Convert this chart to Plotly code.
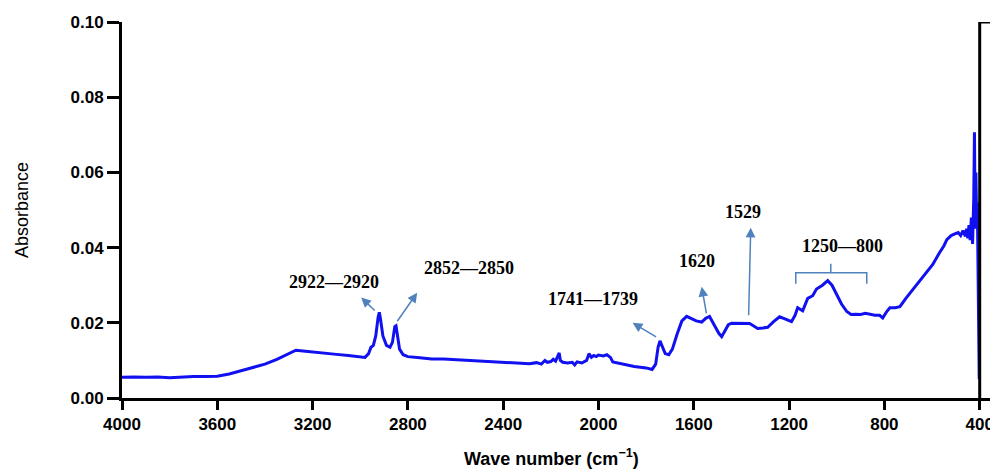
import plotly.graph_objects as go

# FTIR spectrum (wavenumber cm-1, absorbance)
wavenumber = [4000, 3950, 3900, 3850, 3800, 3750, 3700, 3650, 3600, 3550, 3500, 3450, 3400, 3350,
              3300, 3270, 3240, 3200, 3150, 3100, 3050, 3000, 2980, 2965, 2955, 2945, 2935, 2925,
              2920, 2915, 2905, 2890, 2875, 2865, 2855, 2850, 2845, 2835, 2820, 2800, 2750, 2700,
              2650, 2600, 2550, 2500, 2450, 2400, 2350, 2320, 2290, 2260, 2240, 2225, 2215, 2200,
              2190, 2180, 2170, 2165, 2160, 2150, 2130, 2110, 2100, 2090, 2070, 2050, 2040, 2030,
              2020, 2010, 2000, 1980, 1965, 1950, 1940, 1900, 1850, 1800, 1775, 1760, 1750, 1742,
              1735, 1720, 1705, 1690, 1670, 1650, 1630, 1610, 1590, 1567, 1550, 1534, 1515, 1495,
              1483, 1470, 1455, 1441, 1400, 1366, 1350, 1332, 1310, 1290, 1265, 1240, 1215, 1190,
              1175, 1164, 1143, 1122, 1101, 1085, 1060, 1038, 1020, 1000, 980, 958, 940, 920, 900,
              880, 861, 840, 820, 807, 790, 777, 755, 735, 710, 681, 650, 620, 597, 570, 550, 538,
              520, 500, 490, 480, 470, 460, 455, 450, 445, 440, 435, 430, 425, 422, 419, 416, 413,
              410, 408, 406, 404, 402]
absorbance = [0.0055, 0.0056, 0.0055, 0.0056, 0.0054, 0.0056, 0.0057, 0.0057, 0.0058, 0.0064, 0.0072,
              0.0081, 0.0090, 0.0103, 0.0118, 0.0127, 0.0125, 0.0122, 0.0119, 0.0116, 0.0113, 0.0110,
              0.0108, 0.0118, 0.0135, 0.0140, 0.0165, 0.0215, 0.0228, 0.0210, 0.0165, 0.0140, 0.0135,
              0.0148, 0.0190, 0.0192, 0.0170, 0.0130, 0.0115, 0.0110, 0.0107, 0.0104, 0.0104, 0.0102,
              0.0101, 0.0100, 0.0098, 0.0096, 0.0093, 0.0092, 0.0091, 0.0094, 0.0090, 0.0100, 0.0095,
              0.0097, 0.0103, 0.0098, 0.0110, 0.0120, 0.0100, 0.0095, 0.0093, 0.0095, 0.0088, 0.0096,
              0.0093, 0.0100, 0.0118, 0.0108, 0.0113, 0.0110, 0.0114, 0.0112, 0.0115, 0.0108, 0.0096,
              0.0090, 0.0084, 0.0080, 0.0076, 0.0090, 0.0135, 0.0152, 0.0140, 0.0118, 0.0115, 0.0130,
              0.0170, 0.0205, 0.0217, 0.0212, 0.0205, 0.0202, 0.0212, 0.0217, 0.0195, 0.0172, 0.0163,
              0.0178, 0.0195, 0.0199, 0.0199, 0.0198, 0.0192, 0.0185, 0.0186, 0.0188, 0.0203, 0.0216,
              0.0210, 0.0203, 0.0220, 0.0240, 0.0232, 0.0265, 0.0272, 0.0290, 0.0300, 0.0312, 0.0300,
              0.0275, 0.0250, 0.0230, 0.0222, 0.0223, 0.0222, 0.0225, 0.0223, 0.0220, 0.0220, 0.0213,
              0.0230, 0.0240, 0.0240, 0.0243, 0.0265, 0.0288, 0.0312, 0.0335, 0.0355, 0.0385, 0.0405,
              0.0421, 0.0432, 0.0438, 0.0440, 0.0432, 0.0445, 0.0430, 0.0450, 0.0425, 0.0460, 0.0420,
              0.0480, 0.0410, 0.0530, 0.0707, 0.0450, 0.0600, 0.0480, 0.0520, 0.0420, 0.0300, 0.0150,
              0.0050]

x_ticks = [4000, 3600, 3200, 2800, 2400, 2000, 1600, 1200, 800, 400]
y_ticks = [0.00, 0.02, 0.04, 0.06, 0.08, 0.10]

# peak labels: (text, x, y)
label_text = ["2922\u20142920", "2852\u20142850", "1741\u20141739", "1620", "1529", "1250\u2014800"]
label_x = [3109, 2542, 2025, 1588, 1395, 975]
label_y = [0.0309, 0.0347, 0.0264, 0.0365, 0.0496, 0.0405]

# arrows: tail (on the curve) -> head
arrow_tail_x = [2933, 2849, 1752, 1546, 1370]
arrow_tail_y = [0.0229, 0.0200, 0.0160, 0.0221, 0.0216]
arrow_head_x = [2996, 2761, 1857, 1567, 1361]
arrow_head_y = [0.0267, 0.0280, 0.0200, 0.0296, 0.0453]

ARROW = "#4f81bd"

fig = go.Figure()
fig.add_trace(go.Scatter(x=wavenumber, y=absorbance, mode="lines",
                         line=dict(color="#1010f0", width=3), showlegend=False))

for t, x, y in zip(label_text, label_x, label_y):
    fig.add_annotation(x=x, y=y, text=t, showarrow=False,
                       font=dict(family="Liberation Serif", size=18, color="black", weight="bold"))

for tx, ty, hx, hy in zip(arrow_tail_x, arrow_tail_y, arrow_head_x, arrow_head_y):
    fig.add_annotation(x=hx, y=hy, ax=tx, ay=ty, xref="x", yref="y", axref="x", ayref="y",
                       text="", showarrow=True, arrowhead=2, arrowsize=1.3, arrowwidth=1.5,
                       arrowcolor=ARROW)

# bracket over 1250-800 region
fig.add_shape(type="path",
              path="M 1172 0.0304 L 1172 0.0333 L 874 0.0333 L 874 0.0304 M 1025 0.0333 L 1025 0.0357",
              line=dict(color=ARROW, width=1.5), xref="x", yref="y")

# right-hand frame line at 400 cm-1 with top tick
fig.add_shape(type="line", x0=400, x1=400, y0=0, y1=0.1, line=dict(color="black", width=3),
              xref="x", yref="y")
fig.add_shape(type="line", x0=400, x1=340, y0=0.1, y1=0.1, line=dict(color="black", width=3),
              xref="x", yref="y")

# axis titles
fig.add_annotation(text="Absorbance", xref="paper", yref="paper", x=-0.1147, y=0.5,
                   xanchor="center", yanchor="middle", textangle=-90, showarrow=False,
                   font=dict(family="Liberation Sans", size=18, color="black"))
fig.add_annotation(text="Wave number (cm<sup>\u22121</sup>)", xref="paper", yref="paper",
                   x=0.492, y=-0.158, xanchor="center", yanchor="middle", showarrow=False,
                   font=dict(family="Liberation Sans", size=18, color="black", weight="bold"))

tick_font = dict(family="Liberation Sans", size=17, color="black", weight="bold")
# page body has an 8px default margin, so the figure is shrunk and offset accordingly
fig.update_layout(
    width=990, height=462,
    margin=dict(l=114, r=4, t=14, b=72),
    paper_bgcolor="white", plot_bgcolor="white",
    xaxis=dict(range=[4000, 340], tickvals=x_ticks, ticktext=[str(v) for v in x_ticks],
               showgrid=False, zeroline=False, showline=True, linecolor="black", linewidth=3,
               ticks="outside", ticklen=9, tickwidth=3, tickcolor="black", tickfont=tick_font,
               automargin=False),
    yaxis=dict(range=[0, 0.1], tickvals=y_ticks, ticktext=["%.2f" % v for v in y_ticks],
               showgrid=False, zeroline=False, showline=True, linecolor="black", linewidth=3,
               ticks="outside", ticklen=12, tickwidth=3, tickcolor="black", tickfont=tick_font,
               automargin=False),
)

fig.write_html("out.html")
